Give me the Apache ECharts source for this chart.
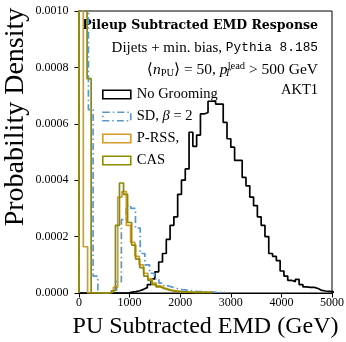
<!DOCTYPE html>
<html>
<head>
<meta charset="utf-8">
<script src="https://cdn.jsdelivr.net/npm/echarts/dist/echarts.min.js"></script>
<style>
  html, body { margin: 0; padding: 0; background: #fff; }
  #chart { width: 346px; height: 342px; }
</style>
</head>
<body>
<div id="chart"></div>
<script>
// histogram bin widths in GeV, each series was binned on its own
const noGroomWidth = 75
const sdWidth = 93
const prssWidth = 85
const casWidth = 80

// probability density per bin, starting at 0 GeV
const noGroomValues = [
  0, 0, 0, 0, 0, 0, 0, 0, 0, 0, 0, 0, 0,
  0.000003, 0.000005, 0.000008, 0.000013, 0.000019, 0.00003, 0.00005, 0.000075,
  0.00011, 0.00014, 0.00019, 0.00024, 0.00027, 0.00035, 0.0004, 0.00044,
  0.00057, 0.00052, 0.00056, 0.000635, 0.00064, 0.00068, 0.00068, 0.00067,
  0.00067, 0.000605, 0.000547, 0.000517, 0.00047, 0.00047, 0.00041, 0.00038,
  0.00034, 0.00031, 0.00027, 0.00024, 0.0002, 0.00014, 0.00013, 0.000115,
  0.000078, 0.00006, 0.000045, 0.00004, 0.000048, 0.00003, 0.000022, 0.00002,
  0.00002, 0.000016, 0.000009, 0.000007, 0.000006, 0.000005,
]
const sdValues = [
  0.0042, 0.0031, 0.00065, 0.00006, 0, 0, 0, 0.00001, 0.00004, 0.00026,
  0.00031, 0.0003, 0.00023, 0.00014, 0.0001, 0.00007, 0.00005, 0.000035,
  0.000025, 0.00002, 0.000015, 0.000012, 0.00001, 0.000008, 0.000006,
  0.000005, 0.000004, 0.000003, 0.000003, 0.000002, 0.000002,
]
const prssValues = [
  0.0068, 0.000164, 0, 0, 0, 0, 0, 0.000005, 0.00002, 0.00034, 0.00036,
  0.00024, 0.00018, 0.00013, 0.0001, 0.00007, 0.00005, 0.000035, 0.000025,
  0.000018, 0.000012, 0.000009, 0.000007, 0.000005, 0.000004, 0.000003,
  0.000002, 0.000002, 0.000002, 0.000002, 0.000002,
]
const casValues = [
  0.0055, 0.0038, 0.00076, 0, 0, 0, 0, 0, 0.000008, 0.00024, 0.00039,
  0.00035, 0.00025, 0.00017, 0.00012, 0.00009, 0.00006, 0.000045, 0.00003,
  0.000022, 0.000016, 0.000012, 0.000008, 0.000006, 0.000005, 0.000004,
  0.000003, 0.000002, 0.000002, 0.000002, 0.000002, 0.000002, 0.000002,
]

const xTicks = [0, 1000, 2000, 3000, 4000, 5000]
const yTicks = [0, 0.0002, 0.0004, 0.0006, 0.0008, 0.001]

const SERIF = '"Liberation Serif", "DejaVu Serif", serif'

// outline of a step histogram: up from 0, across every bin, back down to 0
function stepPoints(width, values) {
  const pts = [[0, 0]]
  values.forEach((v, i) => pts.push([i * width, v]))
  pts.push([values.length * width, values[values.length - 1]])
  pts.push([values.length * width, 0])
  return pts
}

const histSeries = [
  { name: 'No Grooming', width: noGroomWidth, values: noGroomValues, color: '#000000', type: 'solid' },
  { name: 'SD, β = 2', width: sdWidth, values: sdValues, color: '#5b97cf', type: [7, 3, 1.5, 3] },
  { name: 'P-RSS,', width: prssWidth, values: prssValues, color: '#d39b2c', type: 'solid' },
  { name: 'CAS', width: casWidth, values: casValues, color: '#8b8b00', type: 'solid' },
]

const chart = echarts.init(document.getElementById('chart'), null, { renderer: 'canvas' })

chart.setOption({
  animation: false,
  backgroundColor: '#fff',
  grid: {
    left: 79,
    right: 14,
    top: 11,
    bottom: 49,
    containLabel: false,
    outerBoundsMode: 'none',
    show: true,
    borderColor: '#000',
    borderWidth: 1,
  },
  xAxis: {
    type: 'value',
    min: xTicks[0],
    max: xTicks[xTicks.length - 1],
    interval: xTicks[1] - xTicks[0],
    name: 'PU Subtracted EMD (GeV)',
    nameLocation: 'middle',
    nameGap: 22,
    nameTextStyle: { fontFamily: SERIF, fontSize: 24, color: '#000' },
    axisLine: { show: true, lineStyle: { color: '#000', width: 1 } },
    axisTick: { show: true, length: 4.5, lineStyle: { color: '#000' } },
    axisLabel: {
      fontFamily: SERIF,
      fontSize: 12,
      color: '#000',
      margin: 4,
      formatter: (v) => String(v),
    },
    splitLine: { show: false },
  },
  yAxis: {
    type: 'value',
    min: yTicks[0],
    max: yTicks[yTicks.length - 1],
    interval: yTicks[1] - yTicks[0],
    axisLine: { show: true, lineStyle: { color: '#000', width: 1 } },
    axisTick: { show: true, length: 4.5, lineStyle: { color: '#000' } },
    axisLabel: {
      fontFamily: SERIF,
      fontSize: 12,
      color: '#000',
      margin: 10.5,
      formatter: (v) => v.toFixed(4),
    },
    splitLine: { show: false },
  },
  legend: {
    left: 97,
    top: 82,
    orient: 'vertical',
    selectedMode: false,
    itemWidth: 28,
    itemHeight: 8.5,
    itemGap: 7,
    icon: 'rect',
    textStyle: {
      fontFamily: SERIF,
      fontSize: 14.5,
      lineHeight: 14,
      color: '#000',
      padding: [0, 0, 0, 1],
      rich: {
        a: { fontFamily: SERIF, fontSize: 14.5, lineHeight: 14, color: '#000' },
        b: { fontFamily: SERIF, fontSize: 14.5, lineHeight: 14, fontStyle: 'italic', color: '#000' },
      },
    },
    formatter: (name) => (name === 'SD, β = 2' ? '{a|SD, }{b|β}{a| = 2}' : name),
    data: histSeries.map((s) => ({
      name: s.name,
      itemStyle: {
        color: 'transparent',
        borderColor: s.color,
        borderWidth: 1.6,
        borderType: s.type,
      },
    })),
  },
  graphic: [
    {
      // y axis title, drawn by hand because it sits above the axis middle
      type: 'text',
      x: 16,
      y: 117,
      rotation: Math.PI / 2,
      style: {
        text: 'Probability Density',
        fontFamily: SERIF,
        fontSize: 28,
        fill: '#000',
        align: 'center',
        verticalAlign: 'middle',
      },
    },
    {
      type: 'text',
      x: 318,
      y: 26,
      style: {
        text: 'Pileup Subtracted EMD Response',
        fontFamily: '"DejaVu Serif", serif',
        fontWeight: 'bold',
        fontSize: 12.5,
        fill: '#000',
        align: 'right',
        verticalAlign: 'middle',
      },
    },
    {
      type: 'text',
      x: 318,
      y: 48,
      style: {
        text: '{a|Dijets + min. bias, }{m|Pythia 8.185}',
        align: 'right',
        verticalAlign: 'middle',
        rich: {
          a: { fontFamily: SERIF, fontSize: 15, fill: '#000' },
          m: { fontFamily: '"Liberation Mono", "DejaVu Sans Mono", monospace', fontSize: 12.8, fill: '#000' },
        },
      },
    },
    {
      type: 'text',
      x: 318,
      y: 70,
      style: {
        text: '{a|⟨}{i|n}{s|PU}{a|⟩ = 50, }{i|p}{t|T}{u|lead}{a| > 500 GeV}',
        align: 'right',
        verticalAlign: 'middle',
        rich: {
          a: { fontFamily: SERIF, fontSize: 15.5, lineHeight: 18, fill: '#000' },
          i: { fontFamily: SERIF, fontSize: 15.5, lineHeight: 18, fontStyle: 'italic', fill: '#000' },
          s: { fontFamily: SERIF, fontSize: 10.5, lineHeight: 9, verticalAlign: 'bottom', fill: '#000' },
          t: { fontFamily: SERIF, fontSize: 10.5, lineHeight: 9, verticalAlign: 'bottom', fontStyle: 'italic', width: 0.01, align: 'left', fill: '#000' },
          u: { fontFamily: SERIF, fontSize: 10.5, lineHeight: 9, verticalAlign: 'top', fill: '#000' },
        },
      },
    },
    {
      type: 'text',
      x: 318,
      y: 90,
      style: {
        text: 'AKT1',
        fontFamily: SERIF,
        fontSize: 14.5,
        fill: '#000',
        align: 'right',
        verticalAlign: 'middle',
      },
    },
  ],
  series: histSeries.map((s) => ({
    name: s.name,
    type: 'line',
    step: 'end',
    data: stepPoints(s.width, s.values),
    symbol: 'none',
    showSymbol: false,
    clip: true,
    lineStyle: { color: s.color, width: 1.7, type: s.type },
    itemStyle: { color: s.color },
  })),
})
</script>
</body>
</html>
